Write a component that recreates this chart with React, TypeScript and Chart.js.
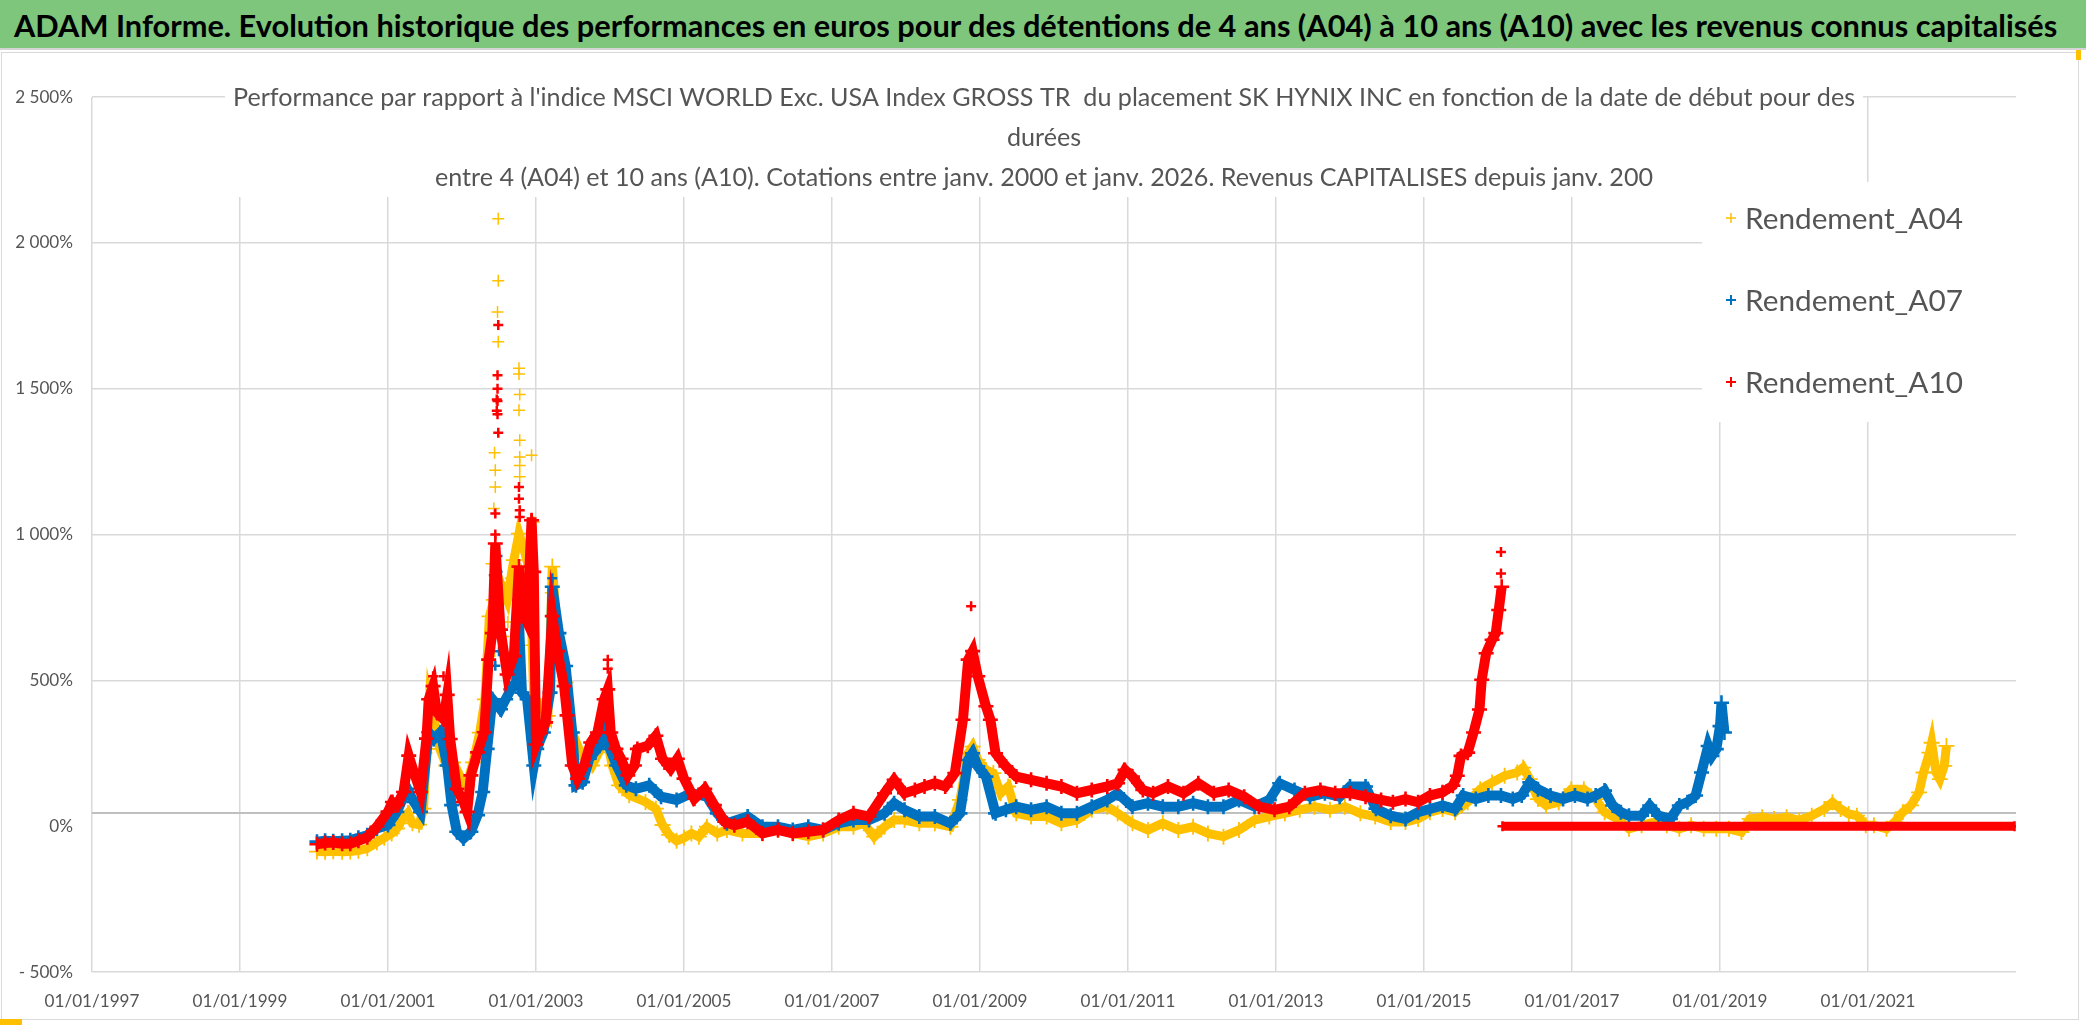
import { useEffect, useRef } from "react";
import { Chart, registerables } from "chart.js";

Chart.register(...registerables);

const headerText =
  "ADAM Informe. Evolution historique des performances en euros pour des détentions de 4 ans (A04) à 10 ans (A10) avec les revenus connus capitalisés";
const titleLines = [
  "Performance par rapport à l'indice MSCI WORLD Exc. USA Index GROSS TR  du placement SK HYNIX INC en fonction de la date de début pour des",
  "durées",
  "entre 4 (A04) et 10 ans (A10). Cotations entre janv. 2000 et janv. 2026. Revenus CAPITALISES depuis janv. 200",
];
const seriesNames = ["Rendement_A04", "Rendement_A07", "Rendement_A10"];
const seriesColors = ["#FFC000", "#0070C0", "#FF0000"];

const xTickYears = [1997, 1999, 2001, 2003, 2005, 2007, 2009, 2011, 2013, 2015, 2017, 2019, 2021];
const yTicks = [-500, 0, 500, 1000, 1500, 2000, 2500];
const axisCross = 45; // l'axe horizontal ne coupe pas à 0

// [année décimale, rendement en %]
const a04Path: [number, number][] = [
  [2000.04, -87], [2000.15, -88], [2000.26, -86], [2000.38, -88], [2000.49, -87], [2000.6, -84], [2000.72, -76], [2000.85, -55],
  [2000.95, -40], [2001.05, -25], [2001.12, -8], [2001.2, 25], [2001.27, 45], [2001.33, 10], [2001.42, 5], [2001.48, 60],
  [2001.53, 300], [2001.56, 435], [2001.62, 367], [2001.7, 265], [2001.79, 208], [2001.88, 219], [2001.97, 174], [2002.06, 140],
  [2002.15, 219], [2002.24, 321], [2002.31, 435], [2002.37, 719], [2002.43, 776], [2002.52, 833], [2002.61, 776], [2002.7, 912],
  [2002.77, 1003], [2002.84, 946], [2002.92, 867], [2002.97, 435], [2003.06, 412], [2003.16, 378], [2003.22, 890], [2003.31, 605],
  [2003.4, 492], [2003.49, 321], [2003.58, 265], [2003.67, 231], [2003.76, 208], [2003.85, 253], [2003.94, 321], [2004.03, 208],
  [2004.12, 140], [2004.26, 106], [2004.48, 83], [2004.62, 60], [2004.71, 4], [2004.8, -30], [2004.9, -50], [2005.0, -40],
  [2005.1, -25], [2005.2, -36], [2005.31, -2], [2005.45, -25], [2005.58, -13], [2005.79, -25], [2006.06, -25], [2006.27, -13],
  [2006.47, -25], [2006.68, -36], [2006.88, -25], [2007.09, -2], [2007.29, -2], [2007.43, 10], [2007.57, -36], [2007.71, -2],
  [2007.84, 21], [2007.98, 21], [2008.18, 10], [2008.39, 10], [2008.6, -2], [2008.73, 90], [2008.84, 250], [2008.9, 273],
  [2008.97, 227], [2009.08, 193], [2009.18, 182], [2009.28, 113], [2009.38, 136], [2009.49, 44], [2009.69, 33], [2009.9, 33],
  [2010.1, 10], [2010.31, 21], [2010.51, 56], [2010.72, 67], [2010.86, 44], [2011.06, 10], [2011.27, -13], [2011.47, 10],
  [2011.68, -13], [2011.88, -2], [2012.08, -25], [2012.29, -36], [2012.5, -13], [2012.71, 21], [2012.91, 33], [2013.12, 44],
  [2013.32, 56], [2013.52, 67], [2013.73, 56], [2013.93, 67], [2014.14, 44], [2014.34, 33], [2014.55, 14], [2014.75, 14],
  [2014.92, 25], [2015.08, 48], [2015.25, 59], [2015.42, 48], [2015.59, 82], [2015.76, 127], [2015.92, 150], [2016.09, 173],
  [2016.26, 184], [2016.34, 201], [2016.43, 161], [2016.54, 93], [2016.65, 71], [2016.82, 82], [2016.99, 127], [2017.16, 127],
  [2017.32, 93], [2017.44, 48], [2017.61, 25], [2017.77, -9], [2017.94, 3], [2018.11, 14], [2018.28, 3], [2018.45, -9],
  [2018.61, 3], [2018.78, -9], [2018.95, -9], [2019.12, -9], [2019.29, -20], [2019.4, 25], [2019.57, 31], [2019.73, 25],
  [2019.9, 31], [2020.07, 20], [2020.24, 36], [2020.41, 59], [2020.52, 82], [2020.63, 59], [2020.74, 42], [2020.85, 36],
  [2020.97, 3], [2021.08, 3], [2021.25, -9], [2021.36, 14], [2021.47, 48], [2021.58, 71], [2021.69, 116], [2021.75, 184],
  [2021.83, 252], [2021.86, 286], [2021.92, 184], [2021.97, 161], [2022.03, 207], [2022.06, 275],
];
const a04Scatter: [number, number][] = [
  [2002.49, 2083], [2002.49, 1870], [2002.48, 1763], [2002.49, 1661], [2002.77, 1570], [2002.77, 1550], [2002.78, 1480],
  [2002.77, 1426], [2002.78, 1323], [2002.78, 1266], [2002.94, 1272], [2002.44, 1280], [2002.45, 1220], [2002.45, 1163],
  [2002.43, 1089], [2002.78, 1237], [2002.78, 1198], [2002.97, 1043], [2002.4, 900], [2002.44, 600], [2002.56, 650],
  [2002.62, 700], [2002.66, 850], [2002.8, 880], [2002.88, 760], [2002.92, 620], [2003.24, 720], [2003.2, 800], [2001.52, 250],
];

const a07Path: [number, number][] = [
  [2000.04, -53], [2000.15, -50], [2000.26, -52], [2000.38, -50], [2000.49, -48], [2000.6, -40], [2000.72, -31], [2000.85, -8],
  [2001.0, 4], [2001.12, 49], [2001.21, 100], [2001.26, 128], [2001.35, 83], [2001.44, 49], [2001.55, 322], [2001.62, 299],
  [2001.71, 322], [2001.8, 208], [2001.86, 72], [2001.93, -19], [2002.02, -42], [2002.12, -19], [2002.21, 38], [2002.28, 117],
  [2002.34, 265], [2002.41, 435], [2002.52, 401], [2002.59, 435], [2002.66, 469], [2002.73, 492], [2002.77, 700], [2002.81, 458],
  [2002.88, 435], [2002.97, 208], [2003.01, 265], [2003.1, 321], [2003.19, 458], [2003.22, 821], [2003.31, 662], [2003.4, 549],
  [2003.49, 321], [2003.54, 140], [2003.63, 151], [2003.72, 231], [2003.86, 276], [2003.93, 378], [2004.0, 265], [2004.09, 208],
  [2004.22, 140], [2004.35, 128], [2004.53, 140], [2004.69, 101], [2004.9, 90], [2005.1, 113], [2005.31, 101], [2005.45, 44],
  [2005.58, 10], [2005.86, 33], [2006.06, -2], [2006.27, -2], [2006.47, -13], [2006.68, -2], [2006.88, -13], [2007.09, 10],
  [2007.29, 21], [2007.5, 21], [2007.71, 44], [2007.84, 79], [2007.98, 56], [2008.18, 33], [2008.39, 33], [2008.6, 10],
  [2008.73, 44], [2008.84, 227], [2008.9, 250], [2008.97, 205], [2009.08, 170], [2009.21, 44], [2009.35, 56], [2009.49, 67],
  [2009.69, 56], [2009.9, 67], [2010.1, 44], [2010.31, 44], [2010.51, 67], [2010.72, 90], [2010.86, 113], [2011.06, 67],
  [2011.27, 79], [2011.47, 67], [2011.68, 67], [2011.88, 79], [2012.08, 67], [2012.29, 67], [2012.5, 90], [2012.71, 67],
  [2012.91, 90], [2013.05, 147], [2013.25, 124], [2013.46, 101], [2013.66, 113], [2013.86, 101], [2014.0, 136], [2014.21, 136],
  [2014.35, 60], [2014.55, 36], [2014.75, 25], [2014.92, 48], [2015.08, 59], [2015.25, 71], [2015.42, 59], [2015.53, 105],
  [2015.7, 93], [2015.87, 105], [2016.04, 105], [2016.2, 93], [2016.32, 105], [2016.43, 150], [2016.54, 127], [2016.71, 105],
  [2016.88, 93], [2017.04, 105], [2017.21, 93], [2017.32, 105], [2017.44, 122], [2017.55, 71], [2017.66, 48], [2017.77, 36],
  [2017.94, 36], [2018.05, 71], [2018.17, 36], [2018.33, 25], [2018.45, 71], [2018.56, 82], [2018.67, 105], [2018.75, 184],
  [2018.84, 275], [2018.89, 241], [2018.95, 264], [2019.0, 343], [2019.02, 423], [2019.06, 321],
];
const a07Scatter: [number, number][] = [
  [2002.48, 926], [2002.48, 872], [2002.48, 809], [2002.48, 746], [2002.76, 776], [2002.77, 662], [2003.22, 850],
  [2002.5, 600], [2002.45, 550],
];

const a10Path: [number, number][] = [
  [2000.04, -62], [2000.15, -58], [2000.26, -56], [2000.38, -60], [2000.49, -60], [2000.6, -50], [2000.72, -38], [2000.85, -2],
  [2001.0, 50], [2001.06, 83], [2001.12, 72], [2001.21, 117], [2001.28, 242], [2001.35, 185], [2001.44, 117], [2001.52, 300],
  [2001.55, 435], [2001.61, 480], [2001.66, 390], [2001.75, 367], [2001.8, 450], [2001.84, 299], [2001.93, 128], [2002.02, 83],
  [2002.07, 49], [2002.12, 174], [2002.21, 253], [2002.3, 322], [2002.36, 571], [2002.41, 662], [2002.45, 969], [2002.52, 674],
  [2002.61, 520], [2002.7, 583], [2002.77, 890], [2002.79, 750], [2002.88, 700], [2002.94, 1049], [2002.97, 872], [2003.0, 280],
  [2003.06, 320], [2003.13, 356], [2003.22, 720], [2003.29, 600], [2003.38, 480], [2003.42, 380], [2003.49, 208], [2003.56, 163],
  [2003.65, 208], [2003.74, 287], [2003.83, 321], [2003.92, 435], [2003.97, 469], [2004.01, 321], [2004.08, 265], [2004.15, 231],
  [2004.24, 174], [2004.33, 208], [2004.37, 265], [2004.51, 276], [2004.62, 310], [2004.71, 231], [2004.82, 197], [2004.91, 231],
  [2005.0, 163], [2005.14, 94], [2005.28, 128], [2005.41, 72], [2005.55, 15], [2005.68, 3], [2005.86, 15], [2006.06, -25],
  [2006.27, -13], [2006.47, -25], [2006.68, -19], [2006.88, -13], [2007.09, 21], [2007.29, 44], [2007.5, 33], [2007.71, 113],
  [2007.84, 159], [2007.98, 113], [2008.12, 124], [2008.25, 136], [2008.39, 147], [2008.53, 136], [2008.66, 182], [2008.77, 365],
  [2008.84, 571], [2008.9, 600], [2008.97, 514], [2009.08, 411], [2009.14, 365], [2009.21, 250], [2009.35, 205], [2009.49, 170],
  [2009.69, 159], [2009.9, 147], [2010.1, 136], [2010.31, 113], [2010.51, 124], [2010.72, 136], [2010.86, 147], [2010.96, 193],
  [2011.06, 170], [2011.2, 124], [2011.34, 113], [2011.54, 136], [2011.75, 113], [2011.95, 147], [2012.16, 113], [2012.36, 124],
  [2012.57, 101], [2012.77, 67], [2012.98, 56], [2013.18, 67], [2013.39, 113], [2013.6, 124], [2013.8, 113], [2014.0, 113],
  [2014.21, 101], [2014.42, 90], [2014.58, 82], [2014.75, 93], [2014.92, 82], [2015.08, 105], [2015.25, 116], [2015.39, 139],
  [2015.45, 173], [2015.5, 241], [2015.59, 252], [2015.67, 321], [2015.75, 400], [2015.78, 502], [2015.84, 593], [2015.92, 639],
  [2015.97, 662], [2016.01, 741], [2016.05, 821],
];
const a10Scatter: [number, number][] = [
  [2002.49, 1718], [2002.48, 1546], [2002.48, 1500], [2002.47, 1463], [2002.47, 1424], [2002.49, 1349], [2002.48, 1412],
  [2002.48, 1458], [2002.45, 1072], [2002.45, 1000], [2002.77, 1163], [2002.77, 1123], [2002.78, 1083], [2002.78, 1060],
  [2002.94, 1055], [2002.43, 860], [2002.97, 872], [2008.88, 754], [2001.61, 514], [2001.75, 514], [2003.97, 571],
  [2003.97, 540], [2016.04, 866], [2016.04, 940],
];
// dates sans rendement A10 connu, tracées à 0
const a10Empty: [number, number][] = [[2016.06, 0], [2022.98, 0]];

const toXY = (pts: [number, number][]) => pts.map(([x, y]) => ({ x, y }));

const fmtPct = (v: number) => {
  const s = Math.abs(v).toString().replace(/\B(?=(\d{3})+(?!\d))/g, " ");
  return (v < 0 ? "- " : "") + s + "%";
};

const FONT = "Lato, 'Open Sans', sans-serif";
const GREY_TEXT = "#555555";

// taille de police pour qu'un texte occupe une largeur donnée
const measureCtx = document.createElement("canvas").getContext("2d")!;
const fitSize = (text: string, weight: string, target: number) => {
  measureCtx.font = `${weight} 100px ${FONT}`;
  return (100 * target) / measureCtx.measureText(text).width;
};

const headerSize = fitSize(headerText, "bold", 2045);
const titleSize = fitSize(titleLines[0], "normal", 1623);
const legendSize = fitSize(seriesNames[0], "normal", 218);
const tickSize = fitSize("01/01/1997", "normal", 95);

const overlayPlugin = {
  id: "overlay",
  beforeDatasetsDraw(chart: any) {
    const { ctx, chartArea, scales } = chart;
    ctx.save();
    // ligne de l'axe horizontal
    const yc = scales.y.getPixelForValue(axisCross);
    ctx.strokeStyle = "#bfbfbf";
    ctx.lineWidth = 2;
    ctx.beginPath();
    ctx.moveTo(chartArea.left, yc);
    ctx.lineTo(chartArea.right, yc);
    ctx.stroke();

    // titre du graphique
    ctx.font = `${titleSize}px ${FONT}`;
    const cx = 1044;
    const widest = Math.max(...titleLines.map((t) => ctx.measureText(t).width));
    ctx.fillStyle = "#ffffff";
    ctx.fillRect(cx - widest / 2 - 8, 76, widest + 16, 121);
    ctx.fillStyle = GREY_TEXT;
    ctx.textAlign = "center";
    ctx.textBaseline = "middle";
    titleLines.forEach((t, i) => ctx.fillText(t, cx, 98 + i * 40));

    // légende
    ctx.fillStyle = "#ffffff";
    ctx.fillRect(1702, 182, chartArea.right - 1702, 240);
    ctx.font = `${legendSize}px ${FONT}`;
    ctx.textAlign = "left";
    seriesNames.forEach((name, i) => {
      const ly = 218 + i * 82;
      const mx = 1731;
      ctx.strokeStyle = seriesColors[i];
      ctx.lineWidth = i === 0 ? 1.5 : 2;
      ctx.beginPath();
      ctx.moveTo(mx - 5, ly);
      ctx.lineTo(mx + 5, ly);
      ctx.moveTo(mx, ly - 5);
      ctx.lineTo(mx, ly + 5);
      ctx.stroke();
      ctx.fillStyle = GREY_TEXT;
      ctx.fillText(name, 1745, ly + 1);
    });
    ctx.restore();
  },
};

export default function App() {
  const canvasEl = useRef<HTMLCanvasElement | null>(null);

  useEffect(() => {
    const ctx = canvasEl.current!.getContext("2d")!;

    const pathSet = (i: number, pts: [number, number][], order: number) => ({
      label: seriesNames[i],
      data: toXY(pts),
      showLine: true,
      borderColor: seriesColors[i],
      backgroundColor: seriesColors[i],
      borderWidth: i === 0 ? 9 : 10,
      pointStyle: "cross",
      pointRadius: i === 0 ? 8 : 7.5,
      pointBorderWidth: i === 0 ? 1.8 : 2.6,
      order,
    });
    const dotSet = (i: number, pts: [number, number][], order: number) => ({
      label: seriesNames[i] + "_pts",
      data: toXY(pts),
      showLine: false,
      borderColor: seriesColors[i],
      backgroundColor: seriesColors[i],
      pointStyle: "cross",
      pointRadius: i === 0 ? 6 : 5,
      pointBorderWidth: i === 0 ? 1.5 : 2.5,
      order,
    });

    const config: any = {
      type: "scatter",
      data: {
        datasets: [
          pathSet(0, a04Path, 3),
          pathSet(1, a07Path, 2),
          pathSet(2, a10Path, 1),
          dotSet(0, a04Scatter, 3),
          dotSet(1, a07Scatter, 2),
          dotSet(2, a10Scatter, 1),
          {
            label: "Rendement_A10_vide",
            data: toXY(a10Empty),
            showLine: true,
            borderColor: seriesColors[2],
            borderWidth: 9,
            pointStyle: "cross",
            pointRadius: 5,
            pointBorderWidth: 2.5,
            order: 1,
          },
        ],
      },
      options: {
        animation: false,
        responsive: true,
        maintainAspectRatio: false,
        layout: { padding: { top: 97, right: 70, bottom: 0, left: 0 } },
        plugins: {
          legend: { display: false },
          title: { display: false },
          tooltip: { enabled: false },
        },
        scales: {
          x: {
            type: "linear",
            min: 1997,
            max: 2023,
            afterBuildTicks: (axis: any) => {
              axis.ticks = xTickYears.map((v) => ({ value: v }));
            },
            afterFit: (axis: any) => {
              axis.height = 59;
            },
            grid: { color: "#d9d9d9", lineWidth: 1.5, drawTicks: false },
            border: { display: false },
            ticks: {
              padding: 19,
              color: GREY_TEXT,
              font: { family: FONT, size: tickSize },
              maxRotation: 0,
              autoSkip: false,
              callback: (v: any) => `01/01/${v}`,
            },
          },
          y: {
            type: "linear",
            min: -500,
            max: 2500,
            afterBuildTicks: (axis: any) => {
              axis.ticks = yTicks.map((v) => ({ value: v }));
            },
            afterFit: (axis: any) => {
              axis.width = 92;
            },
            grid: {
              color: (c: any) => (c.tick && c.tick.value === 0 ? "rgba(0,0,0,0)" : "#d9d9d9"),
              lineWidth: 1.5,
              drawTicks: false,
            },
            border: { display: false },
            ticks: {
              padding: 19,
              color: GREY_TEXT,
              font: { family: FONT, size: tickSize },
              callback: (v: any) => fmtPct(Number(v)),
            },
          },
        },
      },
      plugins: [overlayPlugin],
    };

    const chart = new Chart(ctx, config);
    return () => {
      chart.destroy();
    };
  }, []);

  return (
    <div style={{ position: "fixed", left: 0, top: 0, width: 2086, height: 1031, background: "#ffffff", overflow: "hidden" }}>
      <div style={{ position: "absolute", left: 0, top: 0, width: 2086, height: 1031 }}>
        <canvas ref={canvasEl} />
      </div>
      <div
        style={{
          position: "absolute",
          left: 0,
          top: 0,
          width: 2086,
          height: 50,
          background: "#7dc67c",
          borderBottom: "2px solid #d4d4d4",
          fontFamily: FONT,
          fontWeight: 700,
          fontSize: headerSize,
          lineHeight: "52px",
          color: "#000000",
          paddingLeft: 14,
          boxSizing: "border-box",
          whiteSpace: "nowrap",
        }}
      >
        {headerText}
      </div>
      <div
        style={{
          position: "absolute",
          left: 1,
          top: 52,
          width: 2078,
          height: 968,
          border: "1.5px solid #d9d9d9",
          boxSizing: "border-box",
          pointerEvents: "none",
        }}
      />
      <div style={{ position: "absolute", left: 0, top: 1019, width: 22, height: 6, background: "#ffc000" }} />
      <div style={{ position: "absolute", left: 2076, top: 50, width: 5, height: 10, background: "#ffc000" }} />
    </div>
  );
}
